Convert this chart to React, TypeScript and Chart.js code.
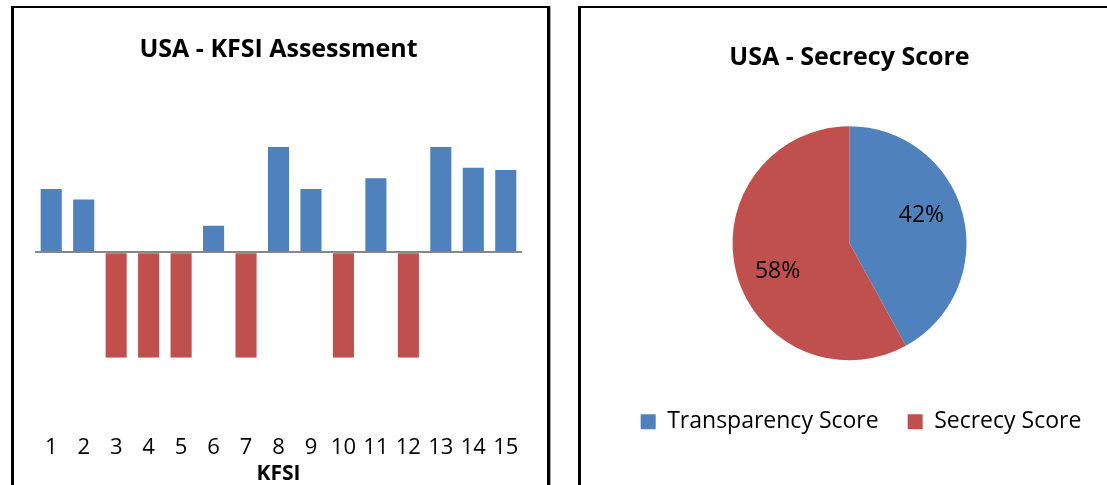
import React, { useEffect, useRef } from "react";
import { Chart, registerables } from "chart.js";

Chart.register(...registerables);

// ---- data ----
const kfsiLabels = ["1", "2", "3", "4", "5", "6", "7", "8", "9", "10", "11", "12", "13", "14", "15"];
const kfsiValues = [0.6, 0.5, -1, -1, -1, 0.25, -1, 1, 0.6, -1, 0.7, -1, 1, 0.8, 0.78];
const scoreLabels = ["Transparency Score", "Secrecy Score"];
const scoreValues = [42, 58];

const BLUE = "#4F81BD";
const RED = "#C0504D";
const FONT = "'Open Sans', sans-serif";

const pieLabelPlugin = {
  id: "pieLabels",
  afterDatasetsDraw(chart: any) {
    const meta = chart.getDatasetMeta(0);
    const ctx = chart.ctx;
    ctx.save();
    ctx.font = `23px ${FONT}`;
    ctx.fillStyle = "#000";
    ctx.textAlign = "center";
    ctx.textBaseline = "middle";
    const shift = (-7 * Math.PI) / 180;
    meta.data.forEach((arc: any, i: number) => {
      const { x, y, startAngle, endAngle, outerRadius } = arc.getProps(
        ["x", "y", "startAngle", "endAngle", "outerRadius"],
        true
      );
      const mid = (startAngle + endAngle) / 2 + shift;
      const r = outerRadius * 0.66;
      ctx.fillText(`${scoreValues[i]}%`, x + Math.cos(mid) * r, y + Math.sin(mid) * r);
    });
    ctx.restore();
  },
};

function BarPanel() {
  const ref = useRef<HTMLCanvasElement>(null);
  useEffect(() => {
    const chart = new Chart(ref.current as HTMLCanvasElement, {
      type: "bar",
      data: {
        labels: kfsiLabels,
        datasets: [
          {
            data: kfsiValues,
            backgroundColor: (c: any) => (c.raw >= 0 ? BLUE : RED),
            barPercentage: 0.65,
            categoryPercentage: 1,
            borderWidth: 0,
          },
        ],
      },
      options: {
        animation: false,
        responsive: true,
        maintainAspectRatio: false,
        layout: { padding: { left: 21, right: 25, top: 0, bottom: 11.7 } },
        plugins: {
          legend: { display: false },
          tooltip: { enabled: false },
          title: {
            display: true,
            text: "USA - KFSI Assessment",
            color: "#000",
            font: { family: FONT, size: 25, weight: "bold", lineHeight: 1.2 },
            padding: { top: 27, bottom: 81.7 },
          },
        },
        scales: {
          x: {
            grid: {
              display: true,
              color: "rgba(0,0,0,0)",
              drawTicks: true,
              tickLength: 76.4,
            },
            border: { display: false },
            ticks: {
              color: "#000",
              padding: 0,
              autoSkip: false,
              maxRotation: 0,
              font: { family: FONT, size: 22, lineHeight: 1.2 },
            },
            title: {
              display: true,
              text: "KFSI",
              color: "#000",
              font: { family: FONT, size: 21, weight: "bold", lineHeight: 1.2 },
              padding: { top: 0.6, bottom: 0 },
            },
          },
          y: {
            min: -1,
            max: 1,
            ticks: { display: false, stepSize: 1 },
            border: { display: false },
            grid: {
              drawTicks: false,
              lineWidth: 2,
              color: (c: any) => (c.tick && c.tick.value === 0 ? "#878787" : "rgba(0,0,0,0)"),
            },
          },
        },
      } as any,
    });
    return () => chart.destroy();
  }, []);
  return (
    <div style={{ position: "absolute", left: 0, top: 0, width: 533, height: 490 }}>
      <canvas ref={ref} />
    </div>
  );
}

function PiePanel() {
  const ref = useRef<HTMLCanvasElement>(null);
  useEffect(() => {
    const chart = new Chart(ref.current as HTMLCanvasElement, {
      type: "pie",
      data: {
        labels: scoreLabels,
        datasets: [
          {
            data: scoreValues,
            backgroundColor: [BLUE, RED],
            borderWidth: 0,
            hoverOffset: 0,
            radius: 117,
          } as any,
        ],
      },
      options: {
        animation: false,
        responsive: true,
        maintainAspectRatio: false,
        layout: { padding: { left: 0, right: 0, top: 0, bottom: 41.8 } },
        plugins: {
          tooltip: { enabled: false },
          title: {
            display: true,
            fullSize: false,
            text: "USA - Secrecy Score",
            color: "#000",
            font: { family: FONT, size: 25, weight: "bold", lineHeight: 1.2 },
            padding: { top: 35, bottom: 32.4 },
          },
          subtitle: {
            display: true,
            position: "right",
            fullSize: false,
            text: "",
            font: { family: FONT, size: 10, lineHeight: 1.2 },
            padding: { top: 5.5, bottom: 5.5 },
          },
          legend: {
            display: true,
            position: "bottom",
            align: "center",
            labels: {
              color: "#000",
              boxWidth: 15,
              boxHeight: 15,
              padding: 29,
              font: { family: FONT, size: 23 },
            },
          },
        },
      } as any,
      plugins: [pieLabelPlugin],
    });
    return () => chart.destroy();
  }, []);
  return (
    <div style={{ position: "absolute", left: 0, top: 0, width: 560, height: 477 }}>
      <canvas ref={ref} />
    </div>
  );
}

export default function App() {
  return (
    <div
      style={{
        position: "fixed",
        left: 0,
        top: 0,
        width: 1107,
        height: 485,
        overflow: "hidden",
        background: "#fff",
      }}
    >
      <div
        style={{
          position: "absolute",
          left: 11,
          top: 6,
          width: 533,
          height: 600,
          borderLeft: "3px solid #000",
          borderRight: "3px solid #000",
          borderTop: "2px solid #000",
          boxShadow: "1px 0 0 #aaa",
        }}
      >
        <BarPanel />
      </div>
      <div
        style={{
          position: "absolute",
          left: 578,
          top: 6,
          width: 600,
          height: 600,
          borderLeft: "3px solid #000",
          borderRight: "3px solid #000",
          borderTop: "2px solid #000",
        }}
      >
        <PiePanel />
      </div>
    </div>
  );
}
